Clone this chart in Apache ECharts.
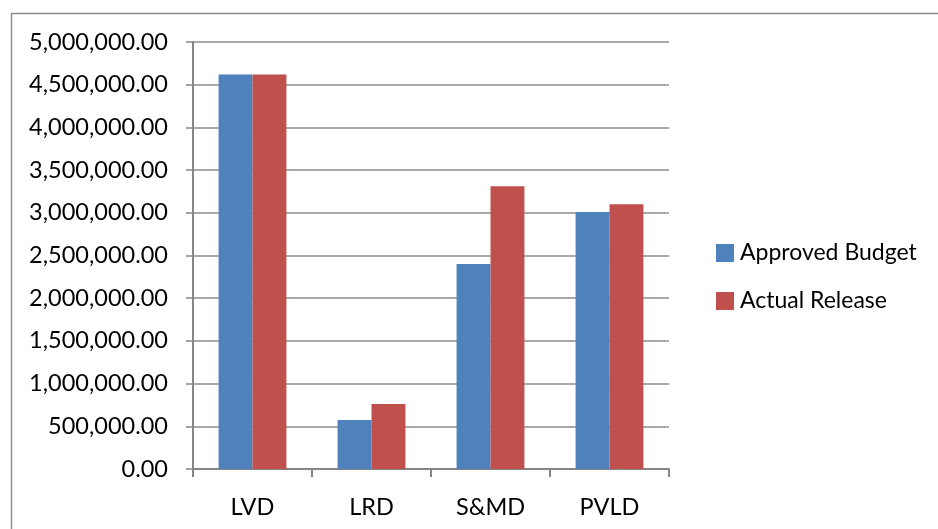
<!DOCTYPE html>
<html>
<head>
<meta charset="utf-8">
<script src="https://cdn.jsdelivr.net/npm/echarts@6/dist/echarts.min.js"></script>
<style>html,body{margin:0;padding:0;background:#fff;}#c{width:938px;height:529px;}</style>
</head>
<body>
<div id="c"></div>
<script>
var categories = ['LVD', 'LRD', 'S&MD', 'PVLD'];
var approvedBudget = [4620000, 575000, 2400000, 3010000];
var actualRelease = [4620000, 760000, 3310000, 3100000];
var seriesNames = ['Approved Budget', 'Actual Release'];

function fmt(v) {
  var s = Math.round(v).toString().replace(/\B(?=(\d{3})+(?!\d))/g, ',');
  return s + '.00';
}
var FONT = 'Lato';
var chart = echarts.init(document.getElementById('c'), null, {renderer: 'canvas'});
chart.setOption({
  animation: false,
  backgroundColor: '#fff',
  graphic: [{
    type: 'rect', silent: true,
    shape: {x: 11.5, y: 13.5, width: 1000, height: 1000},
    style: {fill: 'none', stroke: '#8c8c8c', lineWidth: 1.5}
  }],
  grid: {left: 193, right: 269, top: 42, bottom: 60, containLabel: false},
  legend: {
    orient: 'vertical', left: 711, top: 236,
    itemWidth: 18, itemHeight: 18, itemGap: 24,
    icon: 'rect',
    textStyle: {fontFamily: FONT, fontSize: 23, lineHeight: 24, color: '#000', padding: [0, 0, 0, 1]},
    data: seriesNames
  },
  xAxis: {
    type: 'category', data: categories,
    axisLine: {lineStyle: {color: '#868686', width: 2}},
    axisTick: {show: true, length: 8, inside: false, lineStyle: {color: '#868686', width: 2}},
    axisLabel: {fontFamily: FONT, fontSize: 23.5, color: '#000', margin: 26}
  },
  yAxis: {
    type: 'value', min: 0, max: 5000000, interval: 500000,
    axisLine: {show: true, lineStyle: {color: '#868686', width: 2}},
    axisTick: {show: true, length: 7, lineStyle: {color: '#868686', width: 1.5}},
    splitLine: {lineStyle: {color: '#8c8c8c', width: 1.5}},
    axisLabel: {fontFamily: FONT, fontSize: 23.5, color: '#000', margin: 25, formatter: fmt}
  },
  series: [
    {name: seriesNames[0], type: 'bar', data: approvedBudget, itemStyle: {color: '#4F81BD'}, barGap: '0%', barCategoryGap: '43%'},
    {name: seriesNames[1], type: 'bar', data: actualRelease, itemStyle: {color: '#C0504D'}, barGap: '0%', barCategoryGap: '43%'}
  ]
});
</script>
</body>
</html>
